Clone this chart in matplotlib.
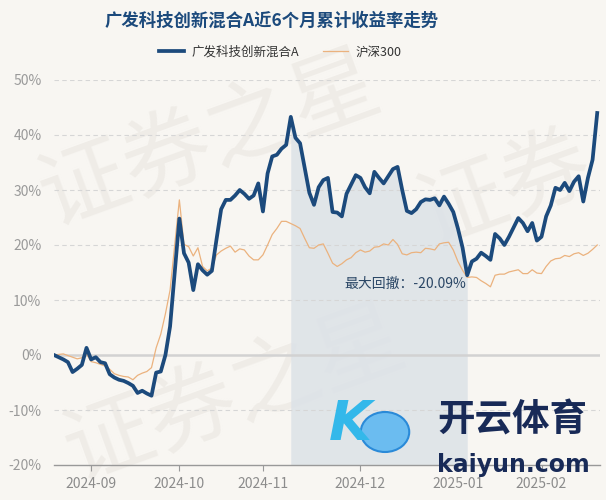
import matplotlib.pyplot as plt
import numpy as np
from matplotlib.patches import Circle

plt.rcParams['font.family'] = ['Noto Sans CJK SC', 'DejaVu Sans']

# 累计收益率 (%), one value per trading day
fund = [0, -0.4, -0.8, -1.3, -3.1, -2.5, -1.8, 1.3, -0.8, -0.4,
        -1.3, -1.5, -3.5, -4.1, -4.5, -4.7, -5.1, -5.6, -6.9, -6.5,
        -7.0, -7.4, -3.2, -3.0, 0.0, 5.2, 15.0, 24.8, 18.5, 16.8,
        11.8, 16.5, 15.4, 14.6, 15.3, 21.0, 26.5, 28.2, 28.2, 29.0,
        30.0, 29.3, 28.4, 29.0, 31.2, 26.1, 33.0, 36.1, 36.4, 37.5,
        38.2, 43.3, 39.5, 38.5, 34.0, 29.5, 27.3, 30.5, 31.8, 32.2,
        26.0, 25.9, 25.2, 29.3, 31.0, 32.7, 32.2, 30.5, 29.4, 33.3,
        32.2, 31.2, 32.5, 33.8, 34.2, 30.0, 26.2, 25.8, 26.5, 27.8,
        28.3, 28.2, 28.5, 27.2, 28.8, 27.5, 26.0, 23.0, 19.5, 14.5,
        17.0, 17.5, 18.6, 18.0, 17.3, 22.0, 21.2, 20.0, 21.5, 23.2,
        24.9, 24.0, 22.5, 24.0, 20.8, 21.5, 25.2, 27.2, 30.4, 30.0,
        31.3, 29.8, 31.5, 32.5, 27.9, 32.2, 35.5, 44.0]

hs300 = [0, 0.1, 0.2, -0.1, -0.4, -0.7, -0.5, 0.2, -1.2, -1.4,
         -1.7, -2.0, -2.6, -3.4, -3.7, -3.9, -4.0, -4.5, -3.7, -3.3,
         -3.0, -2.3, 1.3, 3.8, 7.5, 11.8, 20.0, 28.2, 20.1, 19.7,
         18.0, 19.5, 16.1, 15.3, 15.8, 18.2, 18.9, 19.4, 19.8, 18.7,
         19.3, 19.1, 18.0, 17.3, 17.3, 18.2, 20.0, 21.9, 23.0, 24.3,
         24.3, 23.9, 23.5, 23.0, 21.2, 19.5, 19.4, 20.0, 20.2, 18.5,
         16.7, 16.1, 16.6, 17.3, 17.7, 18.6, 19.1, 18.7, 18.9, 19.6,
         19.7, 20.2, 20.0, 21.0, 20.1, 18.4, 18.2, 18.6, 18.7, 18.6,
         19.4, 19.3, 19.1, 20.2, 20.4, 20.5, 19.1, 17.0, 15.4, 14.1,
         14.2, 14.1, 13.5, 13.0, 12.4, 14.5, 14.7, 14.7, 15.1, 15.3,
         15.5, 14.8, 14.8, 15.5, 14.9, 14.8, 16.1, 17.1, 17.5, 17.6,
         18.1, 17.9, 18.4, 18.6, 18.1, 18.5, 19.2, 20.0]

month_pos = [8, 27, 45, 66, 87, 105]
month_labels = ['2024-09', '2024-10', '2024-11', '2024-12', '2025-01', '2025-02']
y_ticks = [-20, -10, 0, 10, 20, 30, 40, 50]

peak_i, trough_i = 51, 89
dd_label = '最大回撤：-20.09%'

bg = '#f8f6f2'
navy = '#1c4a7c'
orange = '#ebb27e'

x = np.arange(len(fund))

fig = plt.figure(figsize=(6.06, 5.0), dpi=100, facecolor=bg)

# watermark
for cx, cy, txt in [(210, 140, '证券之星'), (235, 395, '证券之星'), (505, 190, '证券')]:
    fig.text(cx / 606, 1 - cy / 500, txt, fontsize=64, color='#efece7',
             rotation=20, ha='center', va='center', zorder=-1)

ax = fig.add_axes([54 / 606, 35 / 500, 546 / 606, 385 / 500])
ax.set_facecolor('none')

ax.fill_between(x[peak_i:trough_i + 1], fund[peak_i:trough_i + 1], -20,
                color='#dce2e7', alpha=0.85, lw=0, zorder=1)

for v in y_ticks[1:]:
    if v == 0:
        ax.axhline(0, color='#d2d2d2', lw=1.8, zorder=1)
    else:
        ax.axhline(v, color='#d6d6d6', lw=0.8, ls=(0, (4, 3)), zorder=1)

ax.plot(x, hs300, color=orange, lw=0.9, zorder=3, label='沪深300')
ax.plot(x, fund, color=navy, lw=2.7, zorder=4, label='广发科技创新混合A',
        solid_joinstyle='round')

ax.text(trough_i - 0.3, 12.9, dd_label, ha='right', va='center',
        fontsize=10, color='#2b4766', zorder=5)

ax.set_xlim(0, 117.6)
ax.set_ylim(-20, 50)
ax.set_yticks(y_ticks)
ax.set_yticklabels([f'{v}%' for v in y_ticks])
ax.set_xticks(month_pos)
ax.set_xticklabels(month_labels)
ax.tick_params(axis='y', length=0, pad=9, labelsize=10, labelcolor='#9a9a9a')
ax.tick_params(axis='x', length=4, color='#999999', pad=5, labelsize=10,
               labelcolor='#8c8c8c')
for s in ['top', 'right', 'left']:
    ax.spines[s].set_visible(False)
ax.spines['bottom'].set_color('#999999')
ax.spines['bottom'].set_linewidth(1.0)

fig.text(272 / 606, 1 - 21 / 500, '广发科技创新混合A近6个月累计收益率走势', ha='center',
         va='center', fontsize=12.5, fontweight='bold', color=navy)

h, l = ax.get_legend_handles_labels()
fig.legend(h[::-1], l[::-1], loc='center', bbox_to_anchor=(280 / 606, 1 - 52 / 500),
           ncol=2, frameon=False, fontsize=9, handlelength=2.0, handletextpad=0.6,
           columnspacing=1.9, labelcolor='#333333')

# corner logo
fig.patches.append(Circle((385 / 606, 1 - 432 / 500), 0.04, transform=fig.transFigure,
                          facecolor='#6bbcf0', edgecolor='#2a8ad8', lw=1.5, zorder=6))
fig.text(350 / 606, 1 - 425 / 500, 'K', fontsize=40, style='italic', fontweight='bold',
         color='#33b8ea', ha='center', va='center', family='DejaVu Sans', zorder=6)
fig.text(512 / 606, 1 - 420 / 500, '开云体育', fontsize=27, fontweight='bold',
         color='#182a57', ha='center', va='center', zorder=6)
fig.text(513 / 606, 1 - 465 / 500, 'kaiyun.com', fontsize=17, fontweight='bold',
         color='#182a57', ha='center', va='center', family='DejaVu Sans', zorder=6)

fig.savefig('out.png', dpi=100, facecolor=bg)
